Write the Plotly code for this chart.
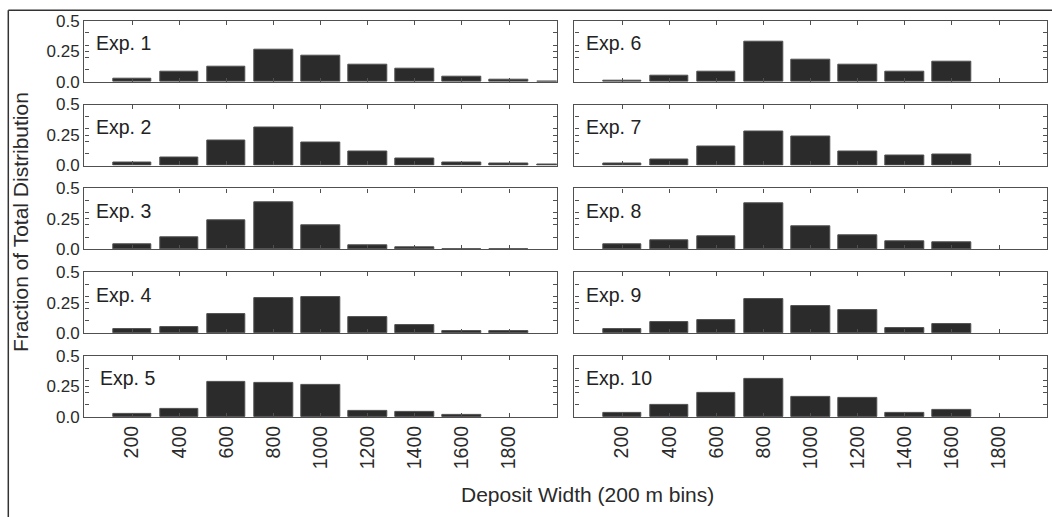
import plotly.graph_objects as go

W, H = 1052, 517

bins = [200, 400, 600, 800, 1000, 1200, 1400, 1600, 1800, 2000]
tick_vals = [200, 400, 600, 800, 1000, 1200, 1400, 1600, 1800]
tick_labels = ["200", "400", "600", "800", "1000", "1200", "1400", "1600", "1800"]

exp_names = ["Exp. 1", "Exp. 2", "Exp. 3", "Exp. 4", "Exp. 5",
             "Exp. 6", "Exp. 7", "Exp. 8", "Exp. 9", "Exp. 10"]

# None = no bar drawn in that bin
exp1 = [0.022, 0.079, 0.126, 0.262, 0.213, 0.142, 0.104, 0.041, 0.014, 0.004]
exp2 = [0.024, 0.065, 0.201, 0.310, 0.185, 0.111, 0.054, 0.022, 0.013, 0.012]
exp3 = [0.044, 0.102, 0.239, 0.385, 0.195, 0.036, 0.016, 0.002, 0.001, None]
exp4 = [0.033, 0.047, 0.159, 0.286, 0.297, 0.132, 0.069, 0.016, 0.016, None]
exp5 = [0.027, 0.062, 0.291, 0.280, 0.261, 0.052, 0.043, 0.014, None, None]
exp6 = [0.011, 0.050, 0.081, 0.325, 0.181, 0.142, 0.081, 0.164, None, None]
exp7 = [0.019, 0.052, 0.159, 0.277, 0.234, 0.118, 0.085, 0.088, None, None]
exp8 = [0.041, 0.074, 0.104, 0.379, 0.190, 0.113, 0.066, 0.060, None, None]
exp9 = [0.036, 0.094, 0.110, 0.279, 0.218, 0.188, 0.039, 0.075, None, None]
exp10 = [0.031, 0.097, 0.194, 0.308, 0.164, 0.158, 0.033, 0.056, None, None]

series = [exp1, exp2, exp3, exp4, exp5, exp6, exp7, exp8, exp9, exp10]

y_tick_vals = [0, 0.1, 0.2, 0.25, 0.3, 0.4, 0.5]
y_tick_text = ["0.0", "", "", "0.25", "", "", "0.5"]

FONT = "Liberation Sans, Arial, sans-serif"
AXC = "#505050"

# panel geometry in pixels
col_x = [(84.3, 556.7), (574.3, 1046.7)]
top0, pitch, ph = 20.7, 83.8, 61.0

fig = go.Figure()
layout = {}
annotations = []

for i, vals in enumerate(series):
    k = i + 1
    col, row = divmod(i, 5)
    x0, x1 = col_x[col]
    t = top0 + pitch * row
    b = t + ph
    xa = "xaxis" if k == 1 else f"xaxis{k}"
    ya = "yaxis" if k == 1 else f"yaxis{k}"
    xr = "x" if k == 1 else f"x{k}"
    yr = "y" if k == 1 else f"y{k}"

    fig.add_trace(go.Bar(
        x=bins, y=vals, width=164, xaxis=xr, yaxis=yr,
        marker=dict(color="#2b2b2b", line=dict(color="#505050", width=1)),
        showlegend=False, hoverinfo="skip",
    ))

    layout[xa] = dict(
        domain=[x0 / W, x1 / W], anchor=yr, range=[-3, 2002],
        tickmode="array", tickvals=tick_vals, ticktext=tick_labels,
        showticklabels=(row == 4), tickangle=-90,
        tickfont=dict(family=FONT, size=19.5, color="#2a2a2a"),
        ticks="inside", ticklen=4, tickwidth=1.2, tickcolor=AXC,
        showline=True, linecolor=AXC, linewidth=1.4, mirror="ticks",
        showgrid=False, zeroline=False, fixedrange=True, automargin=False,
    )
    layout[ya] = dict(
        domain=[1 - b / H, 1 - t / H], anchor=xr, range=[0, 0.5],
        tickmode="array", tickvals=y_tick_vals, ticktext=y_tick_text,
        showticklabels=(col == 0),
        tickfont=dict(family=FONT, size=17, color="#2a2a2a"),
        ticks="inside", ticklen=4, tickwidth=1.2, tickcolor=AXC,
        showline=True, linecolor=AXC, linewidth=1.4, mirror="ticks",
        showgrid=False, zeroline=False, fixedrange=True, automargin=False,
    )
    annotations.append(dict(
        text=exp_names[i], xref=f"{xr} domain", yref=f"{yr} domain",
        x=(0.028 if i == 4 else 0.02), y=0.63, xanchor="left", yanchor="middle",
        showarrow=False, font=dict(family=FONT, size=19.5, color="#222222"),
    ))

annotations.append(dict(
    text="Fraction of Total Distribution", xref="paper", yref="paper",
    x=20 / W, y=1 - 222 / H, textangle=-90, xanchor="center", yanchor="middle",
    showarrow=False, font=dict(family=FONT, size=21, color="#2a2a2a"),
))
annotations.append(dict(
    text="Deposit Width (200 m bins)", xref="paper", yref="paper",
    x=587 / W, y=1 - 494 / H, xanchor="center", yanchor="middle",
    showarrow=False, font=dict(family=FONT, size=21, color="#2a2a2a"),
))

shapes = [
    dict(type="line", xref="paper", yref="paper", x0=8.3 / W, x1=8.3 / W,
         y0=1 - 10.3 / H, y1=0, line=dict(color="#333333", width=1.5)),
    dict(type="line", xref="paper", yref="paper", x0=8.3 / W, x1=1,
         y0=1 - 10.3 / H, y1=1 - 10.3 / H, line=dict(color="#333333", width=1.5)),
]

fig.update_layout(
    width=W, height=H,
    margin=dict(l=0, r=0, t=0, b=0, pad=0, autoexpand=False),
    paper_bgcolor="white", plot_bgcolor="white",
    bargap=0, annotations=annotations, shapes=shapes,
    font=dict(family=FONT),
    **layout,
)

fig.write_html("out.html", config={"displayModeBar": False})
